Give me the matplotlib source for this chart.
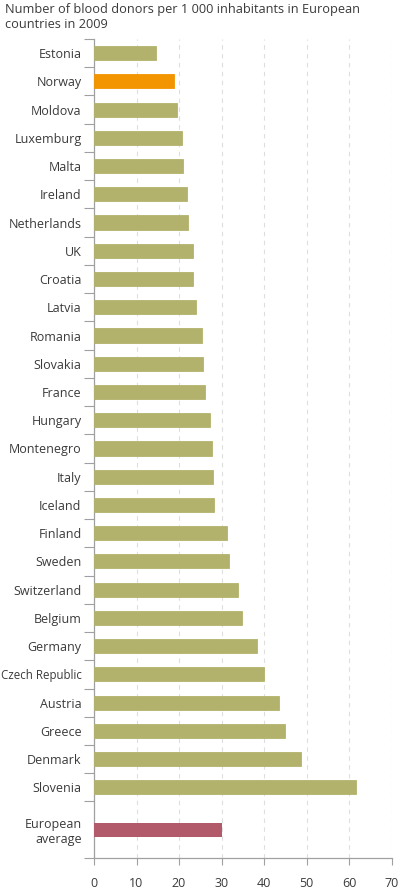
import numpy as np
import matplotlib
matplotlib.use("Agg")
import matplotlib.pyplot as plt

# Blood donors per 1 000 inhabitants, 2009
countries = ["Estonia", "Norway", "Moldova", "Luxemburg", "Malta", "Ireland",
             "Netherlands", "UK", "Croatia", "Latvia", "Romania", "Slovakia",
             "France", "Hungary", "Montenegro", "Italy", "Iceland", "Finland",
             "Sweden", "Switzerland", "Belgium", "Germany", "Czech Republic",
             "Austria", "Greece", "Denmark", "Slovenia"]
donors = [14.6, 18.8, 19.5, 20.8, 21.0, 21.8,
          22.0, 23.2, 23.4, 24.0, 25.5, 25.6,
          26.0, 27.4, 27.7, 28.0, 28.2, 31.4,
          31.7, 33.8, 34.7, 38.4, 40.0,
          43.6, 44.9, 48.6, 61.7]
avg_label = "European\naverage"
avg_value = 30.0

xticks = [0, 10, 20, 30, 40, 50, 60, 70]

olive = "#b2b26c"
orange = "#f39500"
rose = "#b35a6a"
text_col = "#3a3a3a"
axis_col = "#a0a0a0"

plt.rcParams['font.family'] = ['Open Sans', 'DejaVu Sans']

fig = plt.figure(figsize=(4.0, 8.94), dpi=100)
ax = fig.add_axes([0.235, 0.0403, 0.744, 0.9161])

ypos = np.arange(len(countries))
colors = [orange if c == "Norway" else olive for c in countries]
ax.barh(ypos, donors, height=0.5, color=colors, edgecolor=colors, linewidth=0.6, zorder=3)
avg_y = len(countries) + 0.5
ax.barh([avg_y], [avg_value], height=0.5, color=rose, zorder=3)

ax.set_ylim(len(countries) + 1.5, -0.5)
ax.set_xlim(0, 70)

# labels at the centres, ticks at the boundaries
ax.set_yticks(list(ypos) + [avg_y])
ax.set_yticklabels(countries + [avg_label], fontsize=9, color=text_col, linespacing=1.15)
for lab in ax.get_yticklabels():
    if lab.get_text() == "Czech Republic":
        # squeezed in the original
        lab.set_fontsize(8.3)
ax.tick_params(axis='y', which='major', length=0, pad=9)
bounds = list(np.arange(-0.5, len(countries), 1.0)) + [len(countries) + 1.5]
ax.set_yticks(bounds, minor=True)
ax.tick_params(axis='y', which='minor', length=7, color=axis_col, width=0.8)

ax.set_xticks(xticks)
ax.set_xticklabels([str(t) for t in xticks], fontsize=9, color=text_col)
ax.tick_params(axis='x', length=5, color=axis_col, width=0.8, pad=9, direction='out')

ax.grid(axis='x', linestyle=(0, (4, 4)), color="#dedede", linewidth=0.8, zorder=0)

for s in ["top", "right"]:
    ax.spines[s].set_visible(False)
for s in ["left", "bottom"]:
    ax.spines[s].set_color(axis_col)
    ax.spines[s].set_linewidth(0.9)

fig.text(0.012, 0.997, "Number of blood donors per 1 000 inhabitants in European\ncountries in 2009",
         ha="left", va="top", fontsize=9.2, color=text_col, linespacing=1.25)

fig.savefig("out.png", dpi=100)
